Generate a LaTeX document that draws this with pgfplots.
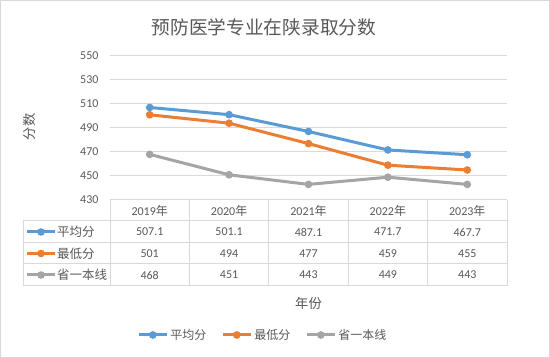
\documentclass[border=0pt]{standalone}
\usepackage{fontspec}
\setmainfont{Carlito}
\newfontfamily\cjk{Noto Sans CJK SC}
\usepackage{pgfplots}
\pgfplotsset{compat=1.18}
\definecolor{cBlue}{HTML}{5B9BD5}
\definecolor{cOrange}{HTML}{ED7D31}
\definecolor{cGray}{HTML}{A5A5A5}
\definecolor{txt}{HTML}{595959}
\definecolor{gridc}{HTML}{D9D9D9}
\begin{document}
\begin{tikzpicture}
\fill[white] (0,0) rectangle (550pt,358pt);
\draw[gridc, line width=1pt] (0.5pt,0.5pt) rectangle (549.5pt,357.5pt);
\begin{axis}[
  at={(110pt,158pt)}, anchor=south west,
  width=397pt, height=144pt, scale only axis,
  xmin=-0.5, xmax=4.5, ymin=430, ymax=550,
  ytick={430,450,...,550},
  xtick={0,...,4},
  xticklabels={{2019\cjk 年},{2020\cjk 年},{2021\cjk 年},{2022\cjk 年},{2023\cjk 年}},
  axis line style={draw=none},
  major tick length=0pt,
  ymajorgrids, grid style={gridc, line width=1pt},
  clip=false,
  /pgf/number format/assume math mode=true,
  tick label style={text=txt, font=\fontsize{12}{14}\selectfont},
  yticklabel style={anchor=east, xshift=-8pt},
  xticklabel style={anchor=center, yshift=-10.5pt},
  legend style={at={(0.385,-0.9375)}, anchor=center, legend columns=3, draw=none, fill=none,
    font=\cjk\fontsize{12}{14}\selectfont, text=txt,
    /tikz/every even column/.append style={column sep=13pt}},
  legend image code/.code={\draw[#1,mark repeat=2,mark phase=2] plot coordinates {(0pt,0pt) (14pt,0pt) (28pt,0pt)};},
]
\addplot[cBlue, line width=3pt, mark=*, mark size=3.3pt, mark options={fill=cBlue, line width=1pt}] coordinates {(0,507.1)(1,501.1)(2,487.1)(3,471.7)(4,467.7)};
\addlegendentry{平均分}
\addplot[cOrange, line width=3pt, mark=*, mark size=3.3pt, mark options={fill=cOrange, line width=1pt}] coordinates {(0,501)(1,494)(2,477)(3,459)(4,455)};
\addlegendentry{最低分}
\addplot[cGray, line width=3pt, mark=*, mark size=3.3pt, mark options={fill=cGray, line width=1pt}] coordinates {(0,468)(1,451)(2,443)(3,449)(4,443)};
\addlegendentry{省一本线}
\begin{scope}[every node/.style={text=txt, font=\fontsize{12}{14}\selectfont}]
\node[yshift=-32pt] at (axis cs:0,430) {507.1};
\node[yshift=-32pt] at (axis cs:1,430) {501.1};
\node[yshift=-32pt] at (axis cs:2,430) {487.1};
\node[yshift=-32pt] at (axis cs:3,430) {471.7};
\node[yshift=-32pt] at (axis cs:4,430) {467.7};
\node[yshift=-53.5pt] at (axis cs:0,430) {501};
\node[yshift=-53.5pt] at (axis cs:1,430) {494};
\node[yshift=-53.5pt] at (axis cs:2,430) {477};
\node[yshift=-53.5pt] at (axis cs:3,430) {459};
\node[yshift=-53.5pt] at (axis cs:4,430) {455};
\node[yshift=-75pt] at (axis cs:0,430) {468};
\node[yshift=-75pt] at (axis cs:1,430) {451};
\node[yshift=-75pt] at (axis cs:2,430) {443};
\node[yshift=-75pt] at (axis cs:3,430) {449};
\node[yshift=-75pt] at (axis cs:4,430) {443};
\end{scope}
\end{axis}
% table grid
\begin{scope}[gridc, line width=1pt]
\draw (110pt,158pt) -- (507pt,158pt);
\foreach \y in {137,115,94,72} \draw (23pt,\y pt) -- (507pt,\y pt);
\foreach \x in {110,189.4,268.8,348.2,427.6,507} \draw (\x pt,72pt) -- (\x pt,158pt);
\draw (23pt,72pt) -- (23pt,137pt);
\end{scope}
% table legend keys
\foreach \c/\y/\t in {cBlue/126/平均分, cOrange/104.5/最低分, cGray/83/省一本线}{
  \draw[\c, line width=3pt] (27pt,\y pt) -- (55pt,\y pt);
  \fill[\c] (41pt,\y pt) circle (3.8pt);
  \node[anchor=west, inner sep=0pt, text=txt, font=\cjk\fontsize{12.5}{14}\selectfont] at (57pt,\y pt) {\t};
}
\node[text=txt, font=\cjk\fontsize{18.7}{20}\selectfont] at (264pt,331pt) {预防医学专业在陕录取分数};
\node[text=txt, font=\cjk\fontsize{13.3}{15}\selectfont] at (308.5pt,55pt) {年份};
\node[text=txt, font=\cjk\fontsize{13.3}{15}\selectfont, rotate=90] at (29pt,231pt) {分数};
\end{tikzpicture}
\end{document}
